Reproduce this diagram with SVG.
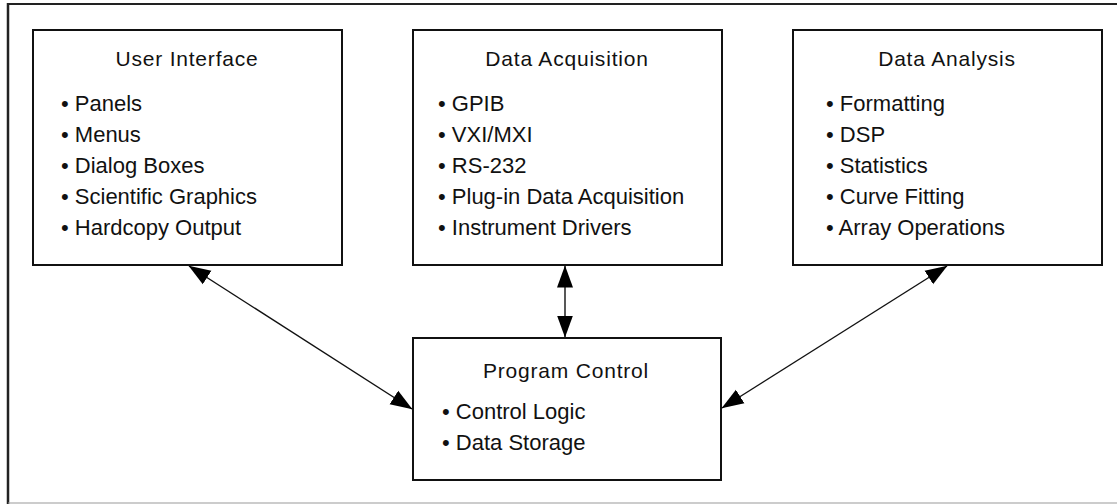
<svg xmlns="http://www.w3.org/2000/svg" width="1117" height="504" viewBox="0 0 1117 504">
<style>
.box{fill:#fff;stroke:#111;stroke-width:2}
.title{font-family:"Liberation Sans",Arial,sans-serif;font-size:21px;fill:#111;text-anchor:middle;letter-spacing:0.8px}
.item{font-family:"Liberation Sans",Arial,sans-serif;font-size:22px;fill:#111}
.conn{stroke:#111;stroke-width:1.4;fill:none;marker-start:url(#ah);marker-end:url(#ah)}
</style>
<defs>
<marker id="ah" viewBox="0 0 22 18" refX="21.5" refY="9" markerWidth="22" markerHeight="18" markerUnits="userSpaceOnUse" orient="auto-start-reverse">
<path d="M0,1 L22,9 L0,17 Z" fill="#000"/>
</marker>
</defs>
<rect width="1117" height="504" fill="#fff"/>
<g id="frame">
<line x1="7" y1="4" x2="1117" y2="4" stroke="#222" stroke-width="2"/>
<line x1="8" y1="3" x2="8" y2="504" stroke="#222" stroke-width="2.5"/>
<line x1="8" y1="503" x2="1117" y2="503" stroke="#999" stroke-width="1.2"/>
</g>
<g id="connectors">
<line class="conn" x1="189" y1="266" x2="412" y2="409"/>
<line class="conn" x1="565" y1="266" x2="565" y2="337"/>
<line class="conn" x1="947" y1="266" x2="722" y2="408"/>
</g>
<g id="user-interface">
<rect class="box" x="33" y="30" width="309" height="235"/>
<text class="title" x="187" y="66">User Interface</text>
<text class="item" x="61" y="111">• Panels</text>
<text class="item" x="61" y="142">• Menus</text>
<text class="item" x="61" y="173">• Dialog Boxes</text>
<text class="item" x="61" y="204">• Scientific Graphics</text>
<text class="item" x="61" y="235">• Hardcopy Output</text>
</g>
<g id="data-acquisition">
<rect class="box" x="413" y="30" width="309" height="235"/>
<text class="title" x="567" y="66">Data Acquisition</text>
<text class="item" x="438" y="111">• GPIB</text>
<text class="item" x="438" y="142">• VXI/MXI</text>
<text class="item" x="438" y="173">• RS-232</text>
<text class="item" x="438" y="204">• Plug-in Data Acquisition</text>
<text class="item" x="438" y="235">• Instrument Drivers</text>
</g>
<g id="data-analysis">
<rect class="box" x="793" y="30" width="309" height="235"/>
<text class="title" x="947" y="66">Data Analysis</text>
<text class="item" x="826" y="111">• Formatting</text>
<text class="item" x="826" y="142">• DSP</text>
<text class="item" x="826" y="173">• Statistics</text>
<text class="item" x="826" y="204">• Curve Fitting</text>
<text class="item" x="826" y="235">• Array Operations</text>
</g>
<g id="program-control">
<rect class="box" x="413" y="338" width="308" height="142"/>
<text class="title" x="566" y="378">Program Control</text>
<text class="item" x="442" y="419">• Control Logic</text>
<text class="item" x="442" y="450">• Data Storage</text>
</g>
</svg>
